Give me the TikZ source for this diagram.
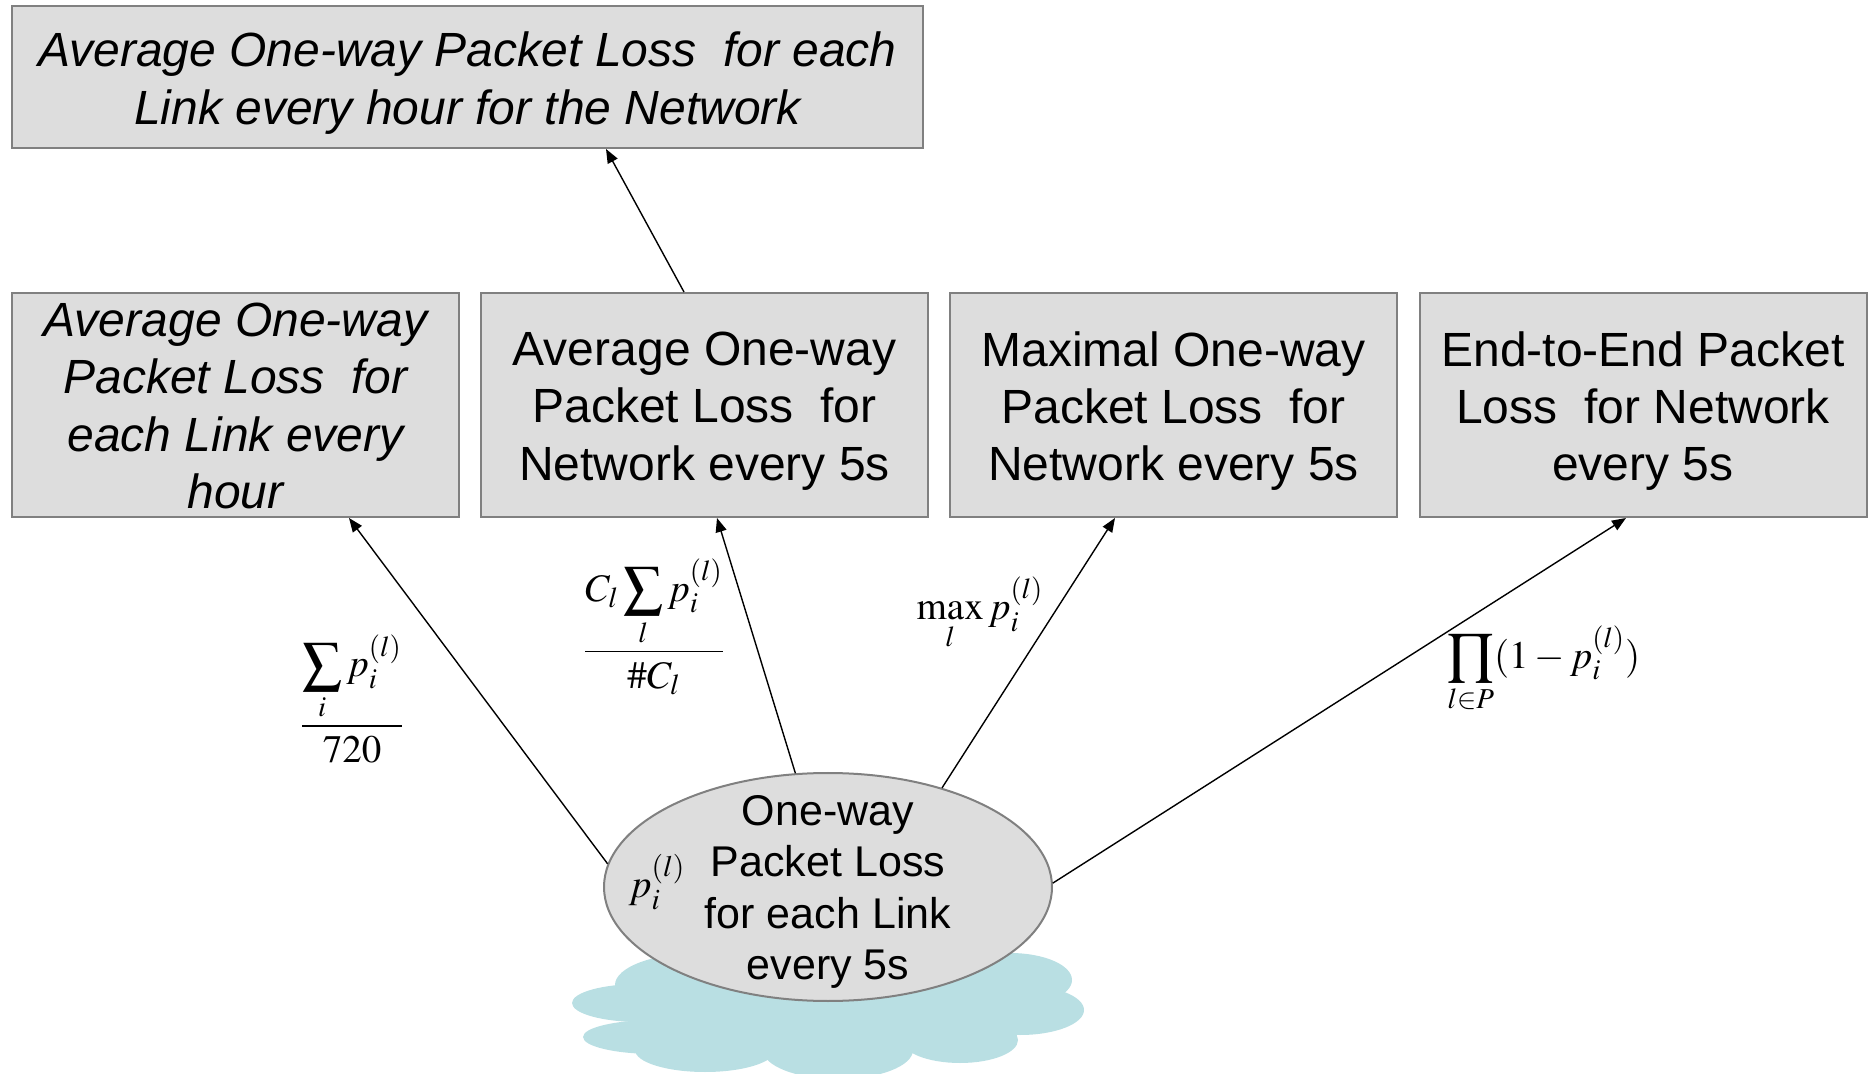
\documentclass[tikz,border=0pt]{standalone}
\usepackage{amsmath}
\usepackage{mathptmx}
\usepackage[no-math]{fontspec}
\setmainfont{Liberation Sans}
\usetikzlibrary{arrows.meta,shapes.geometric}
\definecolor{boxfill}{HTML}{DDDDDD}
\definecolor{boxline}{HTML}{808080}
\definecolor{cloudcol}{HTML}{B9DFE3}
\tikzset{
  box/.style={draw=boxline, line width=1pt, fill=boxfill, inner sep=2pt,
    minimum width=223.5pt, minimum height=112pt, align=center,
    font=\fontsize{24}{28.7}\selectfont},
  boxtext/.style={align=center, inner sep=0pt, font=\fontsize{24}{28.7}\selectfont},
  itboxtext/.style={boxtext, font=\fontsize{24}{28.7}\selectfont\itshape},
  srcell/.style={ellipse, draw=boxline, line width=1pt, fill=boxfill, inner sep=0pt,
    minimum width=224pt, minimum height=114pt},
  srctext/.style={align=center, font=\fontsize{21.5}{25.7}\selectfont},
  formula/.style={inner sep=0pt, font=\fontsize{19.5}{23}\selectfont},
  arr/.style={-{Triangle[length=7pt,width=5.5pt]}, line width=0.7pt, black}
}
\begin{document}
\begin{tikzpicture}[x=0.5pt,y=-0.5pt]
\useasboundingbox (0,0) rectangle (1875,1074);

% network cloud underneath the source ellipse
\begin{scope}
  \clip (0,0) rectangle (1875,1074);
  \fill[cloudcol] (830,1010) ellipse [x radius=100pt, y radius=22.5pt];
  \fill[cloudcol] (700,985)  ellipse [x radius=42.5pt, y radius=16pt];
  \fill[cloudcol] (640,1003) ellipse [x radius=34pt, y radius=9.5pt];
  \fill[cloudcol] (655,1037) ellipse [x radius=36pt, y radius=8.5pt];
  \fill[cloudcol] (705,1050) ellipse [x radius=35pt, y radius=11pt];
  \fill[cloudcol] (838,1050) ellipse [x radius=37.5pt, y radius=14.5pt];
  \fill[cloudcol] (960,1040) ellipse [x radius=29pt, y radius=11.5pt];
  \fill[cloudcol] (1020,1010) ellipse [x radius=32pt, y radius=12.5pt];
  \fill[cloudcol] (1010,980) ellipse [x radius=31pt, y radius=13.5pt];
\end{scope}

% boxes, with their captions set slightly below the box centres
\node[box, minimum width=455.5pt, minimum height=71pt] (net) at (467.5,77) {};
\node[itboxtext] (nett) at (467.5,83)
  {Average One-way Packet Loss\ \ for each\\Link every hour for the Network};
\node[box] (b1) at (235.5,405) {};
\node[itboxtext] (b1t) at (235.5,406)
  {Average One-way\\Packet Loss\ \ for\\each Link every\\hour};
\node[box] (b2) at (704.5,405) {};
\node[boxtext] (b2t) at (704.5,411)
  {Average One-way\\Packet Loss\ \ for\\Network every 5s};
\node[box] (b3) at (1173.5,405) {};
\node[boxtext] (b3t) at (1173.5,411)
  {Maximal One-way\\Packet Loss\ \ for\\Network every 5s};
\node[box] (b4) at (1643,405) {};
\node[boxtext] (b4t) at (1643,411)
  {End-to-End Packet\\Loss\ \ for Network\\every 5s};

% source measurement
\node[srcell] (src) at (828,887) {};
\node[srctext] (srct) at (828,892) {One-way\\Packet Loss\\for each Link\\every 5s};
\node[formula, font=\fontsize{20}{24}\selectfont] (pil) at (657,882) {$p_i^{(l)}$};

% aggregation formulas
\node[formula] (f1) at (352,699)
  {$\dfrac{\displaystyle\sum_i p_i^{(l)}}{720}$};
\node[formula] (f2) at (654,627)
  {$\dfrac{\displaystyle C_l\sum_l p_i^{(l)}}{\#C_l}$};
\node[formula] (f3) at (980,614) {$\displaystyle\max_l p_i^{(l)}$};
\node[formula] (f4) at (1544,670)
  {$\displaystyle\prod_{l\in P}(1-p_i^{(l)})$};

% connectors
\draw[arr] (src.174) -- ([xshift=56.75pt]b1.south);
\draw[arr] (src.106) -- ([xshift=6.25pt]b2.south);
\draw[arr] (src.41) -- ([xshift=-29.25pt]b3.south);
\draw[arr] (src.1) -- ([xshift=-8.5pt]b4.south);
\draw[arr] ([xshift=-10.25pt]b2.north) -- ([xshift=69.25pt]net.south);
\end{tikzpicture}
\end{document}
